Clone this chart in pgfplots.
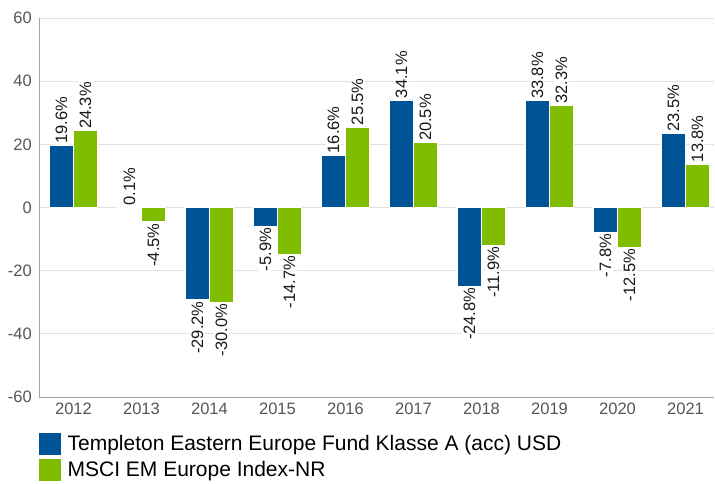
\documentclass[border=0pt]{standalone}
\usepackage{pgfplots}
\usepackage{pgfplotstable}
\pgfplotsset{compat=1.18}
\usepackage{fontspec}
\setmainfont{Liberation Sans}
\definecolor{fundblue}{RGB}{0,84,150}
\definecolor{idxgreen}{RGB}{128,188,0}
\definecolor{gridgray}{RGB}{226,226,226}
\definecolor{axisgray}{RGB}{165,165,165}
\definecolor{ticktext}{RGB}{85,85,85}
\definecolor{labeltext}{RGB}{25,25,25}
\pgfplotstableread{
x fund idx
0 19.6 24.3
1 0.1 -4.5
2 -29.2 -30.0
3 -5.9 -14.7
4 16.6 25.5
5 34.1 20.5
6 -24.8 -11.9
7 33.8 32.3
8 -7.8 -12.5
9 23.5 13.8
}\data
\begin{document}
\begin{tikzpicture}
\useasboundingbox (-39pt,-87pt) rectangle (676pt,397pt);
\begin{axis}[
  at={(0pt,0pt)}, anchor=south west,
  scale only axis,
  width=675pt, height=379pt,
  ymin=-60, ymax=60,
  ytick={-60,-40,...,60},
  xmin=-0.507, xmax=9.419,
  xtick={0,...,9},
  xticklabels={2012,2013,2014,2015,2016,2017,2018,2019,2020,2021},
  ybar, bar width=23.5pt,
  ymajorgrids, grid style={gridgray, line width=0.8pt},
  axis x line*=bottom, axis y line*=left,
  axis line style={-, axisgray, line width=0.9pt},
  major tick length=0pt,
  tick style={draw=none},
  /pgf/number format/assume math mode=true,
  ticklabel style={font=\fontsize{16.5}{19}\selectfont, text=ticktext, inner sep=0pt},
  yticklabel style={anchor=east},
  xticklabel style={anchor=north},
  yticklabel shift=7pt,
  xticklabel shift=6pt,
  clip=false,
  nodes near coords={\pgfmathprintnumber[fixed,fixed zerofill,precision=1,assume math mode=true]{\pgfplotspointmeta}\%},
  visualization depends on={y \as \rawy},
  every node near coord/.append style={rotate=90, font=\fontsize{16.5}{19}\selectfont, text=labeltext, fill=white, inner sep=1.5pt,
    anchor=\ifdim \rawy pt<0pt east\else west\fi},
  legend style={draw=none, fill=none, inner sep=0pt, outer sep=0pt,
    at={(0,-0.095)}, anchor=north west,
    font=\fontsize{21}{25}\selectfont, text=black,
    legend cell align=left, row sep=4pt,
    nodes={inner sep=0pt},
    /tikz/every odd column/.append style={column sep=7pt}},
]
\addplot[fill=fundblue, draw=white, line width=0.6pt, bar shift=-12pt,
  legend image code/.code={\fill[fundblue] (0pt,-10.5pt) rectangle (21pt,10.5pt);}]
  table[x=x, y=fund]{\data};
\addlegendentry{Templeton Eastern Europe Fund Klasse A (acc) USD}
\addplot[fill=idxgreen, draw=white, line width=0.6pt, bar shift=12pt,
  legend image code/.code={\fill[idxgreen] (0pt,-10.5pt) rectangle (21pt,10.5pt);}]
  table[x=x, y=idx]{\data};
\addlegendentry{MSCI EM Europe Index-NR}
\end{axis}
\end{tikzpicture}
\end{document}
